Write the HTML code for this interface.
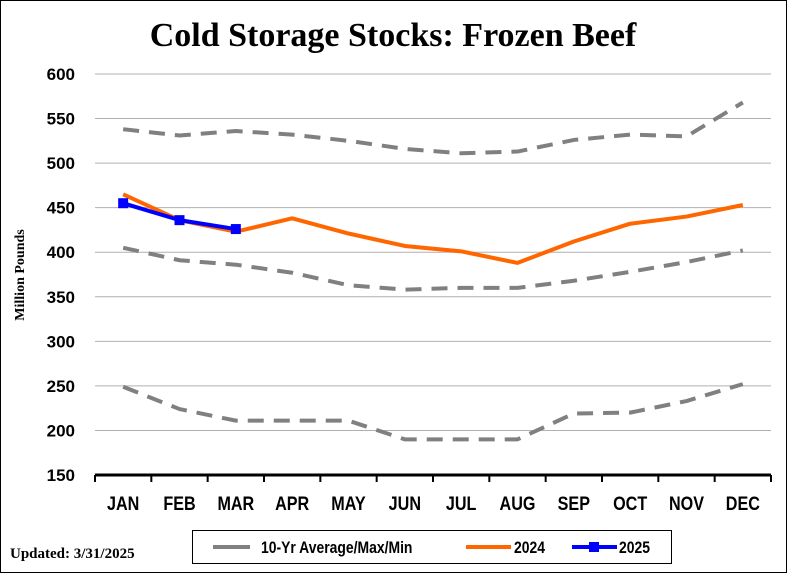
<!DOCTYPE html>
<html><head><meta charset="utf-8"><style>
html,body{margin:0;padding:0;background:#fff;}
svg{display:block;}
.t{font-family:"Liberation Sans",sans-serif;font-weight:bold;}
.s{font-family:"Liberation Serif",serif;font-weight:bold;}
</style></head><body>
<svg id="c" width="787" height="573" xmlns="http://www.w3.org/2000/svg">
<rect x="0.5" y="0.5" width="786" height="572" fill="#fff" stroke="#000"/>
<text x="393" y="46" text-anchor="middle" class="s" font-size="34">Cold Storage Stocks: Frozen Beef</text>
<text transform="translate(24,275) rotate(-90)" text-anchor="middle" class="s" font-size="14">Million Pounds</text>
<g id="grid"></g><g id="ylab"></g><g id="xaxis"></g><g id="series"></g>
<text x="10" y="558" class="s" font-size="15">Updated: 3/31/2025</text>
<g>
<rect x="192.5" y="530.5" width="479" height="33" fill="#fff" stroke="#000"/>
<g><line x1="213" y1="547" x2="250" y2="547" stroke="#808080" stroke-width="4"/><text x="261" y="553" class="t" font-size="17" transform="translate(261,0) scale(0.82,1) translate(-261,0)">10-Yr Average/Max/Min</text></g>
<g><line x1="466" y1="547" x2="511" y2="547" stroke="#FF6600" stroke-width="4"/><text x="514" y="553" class="t" font-size="17" transform="translate(514,0) scale(0.82,1) translate(-514,0)">2024</text></g>
<g><line x1="572" y1="547" x2="617" y2="547" stroke="#0000FF" stroke-width="4"/><rect x="589" y="542" width="10" height="10" fill="#0000FF"/><text x="619" y="553" class="t" font-size="17" transform="translate(619,0) scale(0.82,1) translate(-619,0)">2025</text></g>
</g>
</svg>
<script>
const months=["JAN","FEB","MAR","APR","MAY","JUN","JUL","AUG","SEP","OCT","NOV","DEC"];
const yTicks=[150,200,250,300,350,400,450,500,550,600];
const maxVals=[538,531,536,532,525,516,511,513,526,532,530,568];
const avgVals=[405,391,386,377,363,358,360,360,368,378,389,402];
const minVals=[249,224,211,211,211,190,190,190,219,220,233,252];
const v2024=[465,436,423,438,421,407,401,388,412,432,440,453];
const v2025=[455,436,426];
const NS="http://www.w3.org/2000/svg";
const X0=95,X1=771,Y0=475,Y1=74;
const x=i=>X0+(X1-X0)/12*(i+0.5);
const y=v=>Y0-(v-150)/450*(Y0-Y1);
function mk(t,a,p){const e=document.createElementNS(NS,t);for(const k in a)e.setAttribute(k,a[k]);p.appendChild(e);return e;}
const grid=document.getElementById('grid'),yl=document.getElementById('ylab'),xa=document.getElementById('xaxis'),se=document.getElementById('series');
yTicks.forEach(v=>{
 if(v>150){const g=mk('line',{x1:X0,x2:X1,y1:y(v),y2:y(v),stroke:'#B4AEB4','stroke-width':1},grid);
 
 }
 const t=mk('text',{x:75,y:y(v)+6,'text-anchor':'end',class:'t','font-size':17},yl);t.textContent=v;
 
 
});
const ax=mk('line',{x1:X0,x2:X1,y1:Y0,y2:Y0,stroke:'#000','stroke-width':3},xa);


for(let i=0;i<=12;i++){const tk=mk('line',{x1:X0+(X1-X0)/12*i,x2:X0+(X1-X0)/12*i,y1:Y0,y2:Y0+7,stroke:'#000','stroke-width':2},xa);
 
 }
months.forEach((m,i)=>{const t=mk('text',{x:x(i),y:510,'text-anchor':'middle',class:'t','font-size':19,transform:`translate(${x(i)},0) scale(0.85,1) translate(${-x(i)},0)`},xa);t.textContent=m;
 
 });
function line(vals,attrs,name){const p=mk('polyline',Object.assign({points:vals.map((v,i)=>x(i)+','+y(v)).join(' '),fill:'none','stroke-linejoin':'round'},attrs),se);
 
 return p;}
const dash={stroke:'#808080','stroke-width':4,'stroke-dasharray':'16,10'};
line(maxVals,dash,'series-max');
line(avgVals,dash,'series-avg');
line(minVals,dash,'series-min');
line(v2024,{stroke:'#FF6600','stroke-width':4},'series-2024');
line(v2025,{stroke:'#0000FF','stroke-width':4},'series-2025');
v2025.forEach((v,i)=>{const r=mk('rect',{x:x(i)-5,y:y(v)-5,width:10,height:10,fill:'#0000FF'},se);
 
 });
</script>
</body></html>
